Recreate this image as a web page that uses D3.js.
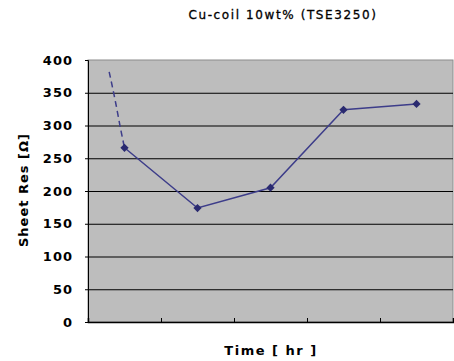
<!DOCTYPE html>
<html>
<head>
<meta charset="utf-8">
<script src="https://cdn.jsdelivr.net/npm/d3@7"></script>
<style>
  body { margin: 0; background: white; }
  svg { display: block; }
</style>
</head>
<body>
<svg id="chart"></svg>
<script>
// values
const categories = ["1", "2", "3", "4", "5"];
const sheetRes = [266, 174, 205, 324, 333];
// dashed lead-in curve (x in category units, 0 = first category)
const leadX = [-0.21, -0.12, -0.05, 0];
const leadY = [382, 334, 293, 266];
const yTicks = [0, 50, 100, 150, 200, 250, 300, 350, 400];

const width = 454, height = 361;
const margin = { top: 60, right: 1, bottom: 39, left: 88 };
const innerW = width - margin.left - margin.right;
const innerH = height - margin.top - margin.bottom;

const svg = d3.select("#chart")
    .attr("width", width)
    .attr("height", height);

const g = svg.append("g")
    .attr("transform", `translate(${margin.left},${margin.top})`);

const xScale = d3.scaleLinear()
    .domain([-0.5, categories.length - 0.5])
    .range([0, innerW]);

const yScale = d3.scaleLinear()
    .domain([0, 400])
    .range([innerH, 0]);

// plot background
g.append("rect")
    .attr("width", innerW)
    .attr("height", innerH)
    .style("fill", "#bdbdbd")
    .style("stroke", "#8c8c8c")
    .style("stroke-width", 1);

// horizontal grid
const yGrid = d3.axisLeft(yScale)
    .tickValues(yTicks.filter(v => v > 0 && v < 400))
    .tickSize(-innerW)
    .tickFormat("");
const gridG = g.append("g").call(yGrid);
gridG.select(".domain").remove();
gridG.selectAll("line").style("stroke", "#000").style("stroke-width", 1.2);

// y axis
const yAxis = d3.axisLeft(yScale)
    .tickValues(yTicks)
    .tickSize(3)
    .tickPadding(12);
const yAxisG = g.append("g").call(yAxis);
yAxisG.select(".domain").style("stroke", "#000");
yAxisG.selectAll("text")
    .style("font-family", "DejaVu Sans, sans-serif")
    .style("font-size", "13px")
    .style("font-weight", "bold")
    .style("letter-spacing", "1px")
    .style("fill", "#000");

// x axis, ticks at category boundaries pointing inward
const xAxis = d3.axisBottom(xScale)
    .tickValues(d3.range(categories.length - 1).map(i => i + 0.5))
    .tickSize(-4)
    .tickFormat("");
const xAxisG = g.append("g")
    .attr("transform", `translate(0,${innerH})`)
    .call(xAxis);
xAxisG.select(".domain").style("stroke", "#000").style("stroke-width", 1.5);
xAxisG.selectAll("line").style("stroke", "#000");

const lineColor = "#3d3d8a";

// dashed lead-in
const leadData = leadX.map((x, i) => ({ x, y: leadY[i] }));
g.append("path")
    .datum(leadData)
    .attr("d", d3.line().x(d => xScale(d.x)).y(d => yScale(d.y)).curve(d3.curveMonotoneX))
    .style("fill", "none")
    .style("stroke", lineColor)
    .style("stroke-width", 1.5)
    .style("stroke-dasharray", "6,4");

// main series
const data = sheetRes.map((v, i) => ({ x: i, y: v }));
g.append("path")
    .datum(data)
    .attr("d", d3.line().x(d => xScale(d.x)).y(d => yScale(d.y)))
    .style("fill", "none")
    .style("stroke", lineColor)
    .style("stroke-width", 1.5);

g.selectAll("path.marker")
    .data(data)
    .enter()
    .append("path")
    .attr("class", "marker")
    .attr("transform", d => `translate(${xScale(d.x)},${yScale(d.y)}) rotate(45)`)
    .attr("d", d3.symbol().type(d3.symbolSquare).size(34))
    .style("fill", "#2a2a70");

// title
svg.append("text")
    .attr("x", 283)
    .attr("y", 19)
    .attr("text-anchor", "middle")
    .style("font-family", "DejaVu Sans, sans-serif")
    .style("font-size", "12px")
    .style("letter-spacing", "1.6px")
    .style("stroke", "#000")
    .style("stroke-width", 0.3)
    .style("fill", "#000")
    .text("Cu-coil 10wt% (TSE3250)");

// axis titles
svg.append("text")
    .attr("x", 271)
    .attr("y", 355)
    .attr("text-anchor", "middle")
    .style("font-family", "DejaVu Sans, sans-serif")
    .style("font-size", "13px")
    .style("font-weight", "bold")
    .style("letter-spacing", "1.5px")
    .style("fill", "#000")
    .text("Time [ hr ]");

svg.append("text")
    .attr("transform", "translate(28,190) rotate(-90)")
    .attr("text-anchor", "middle")
    .style("font-family", "DejaVu Sans, sans-serif")
    .style("font-size", "13px")
    .style("font-weight", "bold")
    .style("letter-spacing", "1px")
    .style("fill", "#000")
    .text("Sheet Res [Ω]");
</script>
</body>
</html>
